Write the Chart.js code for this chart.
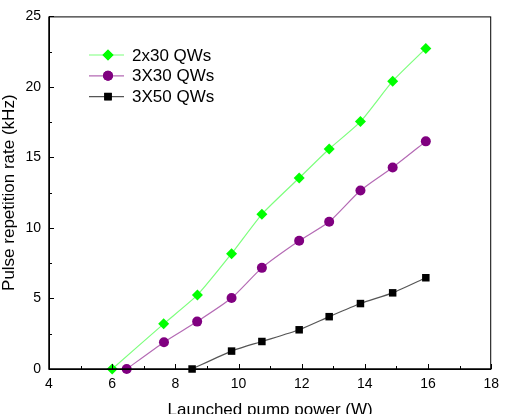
<!DOCTYPE html>
<html>
<head>
<meta charset="utf-8">
<script src="https://cdn.jsdelivr.net/npm/chart.js@4"></script>
<style>
  html, body { margin: 0; padding: 0; background: #fff; }
  #wrap { width: 506px; height: 414px; }
</style>
</head>
<body>
<div id="wrap"><canvas id="pumpChart" width="506" height="414"></canvas></div>
<script>
// values
const labels = ["2x30 QWs", "3X30 QWs", "3X50 QWs"];
const powerA = [6.0, 7.63, 8.70, 9.78, 10.74, 11.92, 12.87, 13.86, 14.88, 15.93];
const rateA = [0, 3.2, 5.25, 8.18, 10.97, 13.54, 15.6, 17.54, 20.41, 22.73];
const powerB = [6.46, 7.64, 8.69, 9.78, 10.74, 11.92, 12.87, 13.86, 14.88, 15.93];
const rateB = [0, 1.9, 3.36, 5.03, 7.17, 9.09, 10.44, 12.66, 14.29, 16.14];
const powerC = [8.53, 9.78, 10.74, 11.92, 12.87, 13.86, 14.88, 15.93];
const rateC = [0, 1.27, 1.95, 2.78, 3.71, 4.64, 5.40, 6.47];
const xTicks = [4, 6, 8, 10, 12, 14, 16, 18];
const yTicks = [0, 5, 10, 15, 20, 25];

function toPoints(xs, ys) {
    return xs.map((x, i) => ({x: x, y: ys[i]}));
}

const styles = [
    {marker: "#00ff00", line: "#7dff7d", shape: "rectRot", r: 5.5},
    {marker: "#800080", line: "#b46ab4", shape: "circle", r: 5},
    {marker: "#000000", line: "#555555", shape: "rect", r: 5.3}
];
const series = [toPoints(powerA, rateA), toPoints(powerB, rateB), toPoints(powerC, rateC)];
const FONT = "'Liberation Sans', Arial, sans-serif";

// inward ticks, frame and inline legend
const framePlugin = {
    id: "frame",
    afterDraw(chart) {
        const ctx = chart.ctx;
        const a = chart.chartArea;
        const xs = chart.scales.x, ys = chart.scales.y;
        ctx.save();
        ctx.strokeStyle = "#000";
        ctx.lineWidth = 1;
        ctx.strokeRect(a.left + 0.5, a.top + 0.5, a.right - a.left - 1, a.bottom - a.top);
        ctx.lineWidth = 1.5;
        ctx.beginPath();
        ctx.moveTo(a.left, a.top); ctx.lineTo(a.left, a.bottom); ctx.lineTo(a.right, a.bottom);
        ctx.stroke();
        ctx.lineWidth = 1;
        ctx.beginPath();
        for (let v = 4; v <= 18; v += 1) {
            const px = Math.round(xs.getPixelForValue(v)) + 0.5;
            const len = v % 2 === 0 ? 5 : 3;
            ctx.moveTo(px, a.bottom); ctx.lineTo(px, a.bottom - len);
        }
        for (let v = 0; v <= 25; v += 2.5) {
            const py = Math.round(ys.getPixelForValue(v)) + 0.5;
            const len = v % 5 === 0 ? 5 : 3;
            ctx.moveTo(a.left, py); ctx.lineTo(a.left + len, py);
        }
        ctx.stroke();

        // legend
        const lx = 89, ly = 55, gap = 20.8;
        ctx.font = "17px " + FONT;
        ctx.textBaseline = "middle";
        labels.forEach((lab, i) => {
            const s = styles[i];
            const y = ly + i * gap;
            ctx.strokeStyle = s.line;
            ctx.lineWidth = 1.2;
            ctx.beginPath(); ctx.moveTo(lx, y); ctx.lineTo(lx + 35, y); ctx.stroke();
            ctx.fillStyle = s.marker;
            Chart.helpers.drawPoint(ctx, {pointStyle: s.shape, radius: s.r, borderWidth: 0}, lx + 19, y);
            ctx.fill();
            ctx.fillStyle = "#000";
            ctx.fillText(lab, lx + 43, y + 1);
        });
        ctx.restore();
    }
};

new Chart("pumpChart", {
    type: "line",
    data: {
        datasets: series.map((pts, i) => ({
            label: labels[i],
            data: pts,
            borderColor: styles[i].line,
            backgroundColor: styles[i].marker,
            pointBackgroundColor: styles[i].marker,
            pointBorderWidth: 0,
            pointStyle: styles[i].shape,
            pointRadius: styles[i].r,
            borderWidth: 1.2,
            tension: 0.2,
            fill: false,
            clip: false
        }))
    },
    options: {
        responsive: false,
        animation: false,
        events: [],
        layout: {padding: {top: 10, right: 11, left: 0, bottom: 0}},
        plugins: {legend: {display: false}, tooltip: {enabled: false}},
        scales: {
            x: {
                type: "linear",
                min: 4, max: 18,
                afterFit(s) { s.height = 45; },
                afterBuildTicks(s) { s.ticks = xTicks.map(v => ({value: v})); },
                grid: {display: false, drawTicks: false},
                border: {display: false},
                ticks: {color: "#000", padding: 7, font: {family: FONT, size: 14}},
                title: {
                    display: true,
                    text: "Launched pump power (W)",
                    color: "#000",
                    padding: {top: 0, bottom: -5.3},
                    font: {family: FONT, size: 17, lineHeight: 1}
                }
            },
            y: {
                type: "linear",
                min: 0, max: 25,
                afterFit(s) { s.width = 49; },
                afterBuildTicks(s) { s.ticks = yTicks.map(v => ({value: v})); },
                grid: {display: false, drawTicks: false},
                border: {display: false},
                ticks: {color: "#000", padding: 8, font: {family: FONT, size: 14}},
                title: {
                    display: true,
                    text: "Pulse repetition rate (kHz)",
                    color: "#000",
                    padding: {top: 0.5, bottom: 0},
                    font: {family: FONT, size: 17, lineHeight: 1}
                }
            }
        }
    },
    plugins: [framePlugin]
});
</script>
</body>
</html>
